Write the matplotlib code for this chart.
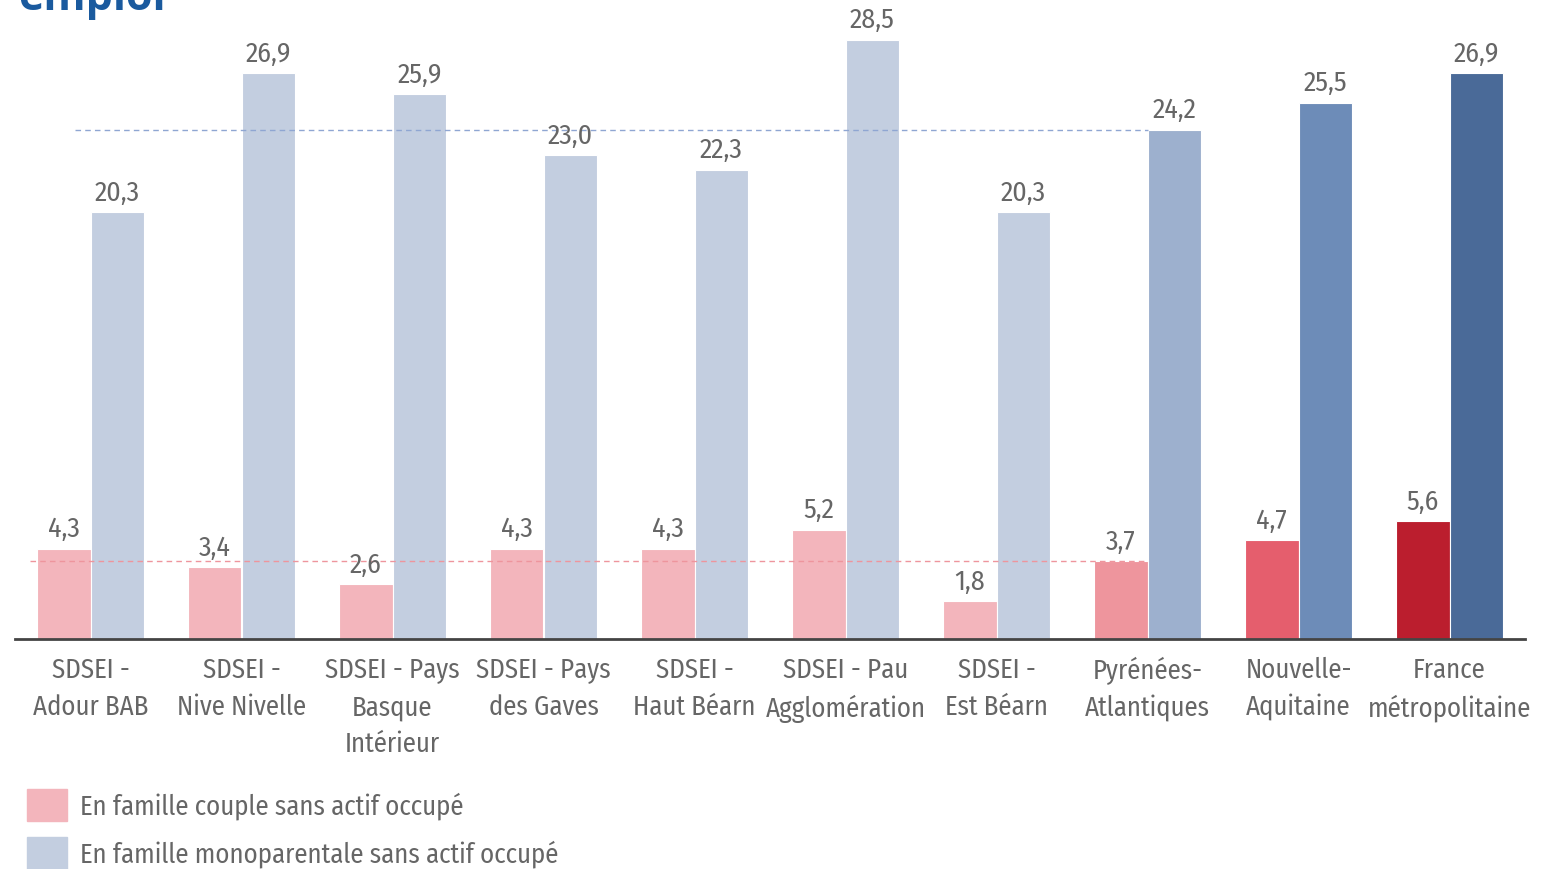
import matplotlib
matplotlib.use("Agg")
import matplotlib.pyplot as plt
from matplotlib.patches import Rectangle

plt.rcParams['font.family'] = ['Fira Sans Condensed', 'DejaVu Sans']

categories = [
    "SDSEI -\nAdour BAB",
    "SDSEI -\nNive Nivelle",
    "SDSEI - Pays\nBasque\nIntérieur",
    "SDSEI - Pays\ndes Gaves",
    "SDSEI -\nHaut Béarn",
    "SDSEI - Pau\nAgglomération",
    "SDSEI -\nEst Béarn",
    "Pyrénées-\nAtlantiques",
    "Nouvelle-\nAquitaine",
    "France\nmétropolitaine",
]
couple = [4.3, 3.4, 2.6, 4.3, 4.3, 5.2, 1.8, 3.7, 4.7, 5.6]
monoparentale = [20.3, 26.9, 25.9, 23.0, 22.3, 28.5, 20.3, 24.2, 25.5, 26.9]
series_names = ["En famille couple sans actif occupé",
                "En famille monoparentale sans actif occupé"]
reference_index = 7  # Pyrénées-Atlantiques

couple_colors = ["#f3b5bc"] * 7 + ["#ee959d", "#e55e6d", "#bb1e2e"]
mono_colors = ["#c3cee0"] * 7 + ["#9db0ce", "#6d8cb8", "#4a6a98"]

text_grey = "#666666"
fs_val = 20
fs_txt = 19.3

fig = plt.figure(figsize=(15.44, 8.7), dpi=100)
ax = fig.add_axes([15 / 1544, 230 / 870, 1510 / 1544, 631 / 870])

w = 0.355
x = list(range(len(categories)))
for i in x:
    ax.bar(i - w / 2, couple[i], width=w, color=couple_colors[i],
           edgecolor="white", linewidth=0.8, zorder=2)
    ax.bar(i + w / 2, monoparentale[i], width=w, color=mono_colors[i],
           edgecolor="white", linewidth=0.8, zorder=2)
    ax.annotate(f"{couple[i]:.1f}".replace(".", ","), (i - w / 2, couple[i]),
                xytext=(0, 9), textcoords="offset points", ha="center",
                va="baseline", fontsize=fs_val, color=text_grey, zorder=4)
    ax.annotate(f"{monoparentale[i]:.1f}".replace(".", ","), (i + w / 2, monoparentale[i]),
                xytext=(0, 9), textcoords="offset points", ha="center",
                va="baseline", fontsize=fs_val, color=text_grey, zorder=4)

# reference lines at the département values
ax.plot([-0.40, reference_index], [couple[reference_index]] * 2,
        ls=(0, (4, 3)), lw=1, color="#ee959d", zorder=3)
ax.plot([-0.10, reference_index], [monoparentale[reference_index]] * 2,
        ls=(0, (4, 3)), lw=1, color="#8fa6d2", zorder=3)

ax.set_xlim(-0.5, 9.5)
ax.set_ylim(0, 30)
for s in ["top", "right", "left"]:
    ax.spines[s].set_visible(False)
ax.spines["bottom"].set_color("#444444")
ax.spines["bottom"].set_linewidth(2)
ax.set_yticks([])
ax.set_xticks(x)
ax.set_xticklabels(categories, fontsize=fs_txt, color=text_grey, linespacing=1.5)
ax.tick_params(axis="x", length=0, pad=12)

# legend
for k, (name, col) in enumerate(zip(series_names, [couple_colors[0], mono_colors[0]])):
    yc = 806 + 48 * k
    fig.patches.append(Rectangle((27 / 1544, (870 - yc - 16) / 870), 40 / 1544, 32 / 870,
                                 transform=fig.transFigure, color=col))
    fig.text(80 / 1544, (870 - yc) / 870, name, fontsize=fs_txt, color=text_grey,
             va="center", ha="left")

fig.text(18 / 1544, 1 - 10 / 870, "emploi", fontsize=31, fontweight="bold",
         color="#1a5a9e", family=["Open Sans", "DejaVu Sans"], va="baseline")

fig.savefig("out.png", dpi=100)
